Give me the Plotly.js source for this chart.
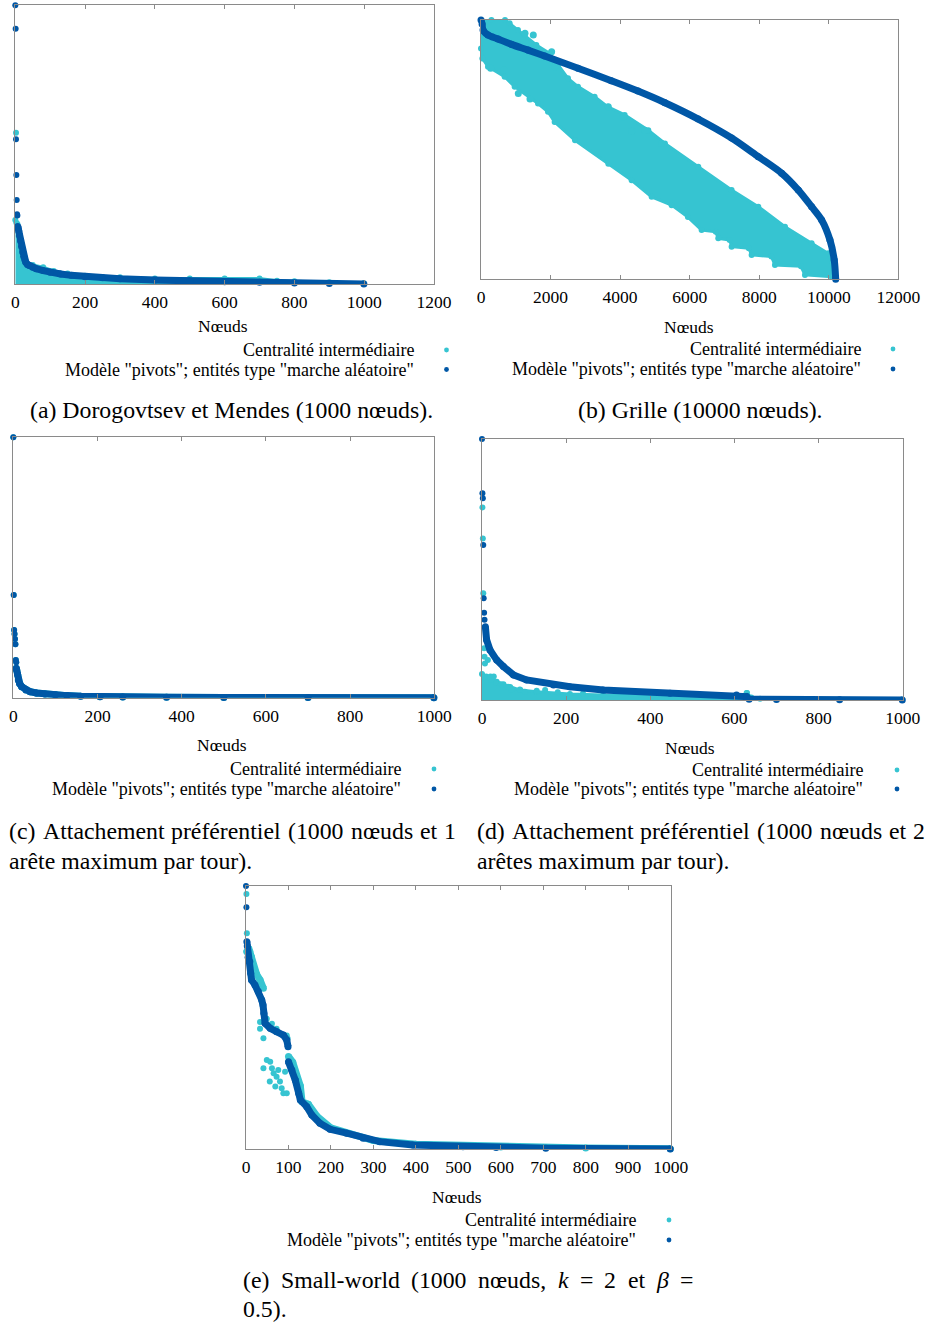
<!DOCTYPE html>
<html>
<head>
<meta charset="utf-8">
<script src="https://cdn.plot.ly/plotly-3.0.1.min.js"></script>
<style>
  html, body { margin: 0; padding: 0; background: #fff; }
  #chart { width: 925px; height: 1323px; }
</style>
</head>
<body>
<div id="chart"></div>
<script>
// Series colours
const CYAN = 'rgb(54,196,209)';
const BLUE = 'rgb(0,87,166)';

// Shared labels
const xTitle = 'Nœuds';
const nameCentral = 'Centralité intermédiaire';
const namePivot = 'Modèle "pivots"; entités type "marche aléatoire"';

// ---- (a) Dorogovtsev et Mendes (1000 nœuds) ----
const aPivotTopX = [0, 1, 2, 3, 4, 5, 6];
const aPivotTopY = [1.0, 0.916, 0.519, 0.391, 0.301, 0.250, 0.246];
const aPivotX = [7, 8, 10, 12, 15, 18, 21, 24, 27, 30, 35, 40, 50, 60, 80, 100, 130, 160, 200, 250, 300, 400, 500, 600, 700, 800, 900, 999];
const aPivotY = [0.206, 0.200, 0.190, 0.175, 0.155, 0.135, 0.115, 0.100, 0.088, 0.078, 0.070, 0.066, 0.060, 0.055, 0.048, 0.042, 0.036, 0.031, 0.026, 0.022, 0.019, 0.014, 0.011, 0.008, 0.006, 0.004, 0.002, 0.000];
const aCentralTopX = [2];
const aCentralTopY = [0.543];
const aCentralHiX = [0, 3, 6, 10, 15, 20, 28, 50, 80, 110, 150, 200, 300, 400, 500, 600, 700, 750, 800, 900, 999];
const aCentralHiY = [0.23, 0.22, 0.215, 0.17, 0.12, 0.09, 0.07, 0.068, 0.06, 0.047, 0.038, 0.03, 0.024, 0.02, 0.02, 0.02, 0.02, 0.012, 0.01, 0.006, 0.003];
const aCentralLoX = [0, 999];
const aCentralLoY = [-0.007, -0.007];

// ---- (b) Grille (10000 nœuds) ----
const bPivotX = [0, 30, 58, 201, 489, 872, 1351, 1831, 2789, 3747, 4514, 5290, 6248, 7207, 7974, 8646, 9125, 9508, 9796, 10034, 10158, 10200];
const bPivotY = [1.0, 0.985, 0.961, 0.942, 0.927, 0.906, 0.884, 0.861, 0.814, 0.766, 0.726, 0.681, 0.618, 0.545, 0.473, 0.409, 0.344, 0.280, 0.229, 0.152, 0.074, 0.0];
const bCentralHiX = [0, 300, 690, 824, 1063, 1255, 1591, 1975, 2214, 2501, 2789, 3268, 3651, 4131, 4811, 5290, 6248, 7207, 7974, 8741, 9508, 9987, 10131];
const bCentralHiY = [1.0, 1.0, 1.0, 0.987, 0.961, 0.942, 0.904, 0.871, 0.826, 0.775, 0.743, 0.704, 0.665, 0.634, 0.575, 0.524, 0.434, 0.344, 0.28, 0.203, 0.139, 0.1, 0.036];
const bCentralLoX = [0, 40, 201, 680, 968, 1639, 1926, 2118, 2703, 3661, 4332, 4907, 5482, 5950, 6344, 6750, 6823, 7150, 7207, 7700, 7782, 8350, 8453, 9200, 9316, 10083];
const bCentralLoY = [0.89, 0.852, 0.82, 0.781, 0.743, 0.678, 0.646, 0.607, 0.536, 0.446, 0.382, 0.318, 0.286, 0.24, 0.19, 0.183, 0.158, 0.152, 0.126, 0.12, 0.094, 0.088, 0.055, 0.05, 0.017, 0.01];
const bCentralDotX = [1265, 1504, 1073, 1409, 3661, 4092, 4332, 4715, 5194, 278, 661, 2031, 2127];
const bCentralDotY = [0.949, 0.942, 0.717, 0.695, 0.665, 0.627, 0.571, 0.575, 0.524, 0.814, 0.807, 0.878, 0.82];

// ---- (c) Attachement préférentiel, 1 arête par tour ----
const cTopX = [0, 1, 2, 3, 4, 5, 6, 7];
const cTopY = [1.0, 0.394, 0.26, 0.245, 0.225, 0.205, 0.145, 0.136];
const cCurveX = [7, 8, 10, 12, 15, 20, 30, 40, 55, 75, 100, 127, 160, 206, 260, 364, 500, 700, 999];
const cCurveY = [0.113, 0.106, 0.09, 0.068, 0.055, 0.042, 0.03, 0.023, 0.018, 0.014, 0.011, 0.008, 0.006, 0.004, 0.003, 0.002, 0.001, 0.0005, 0.0];

// ---- (d) Attachement préférentiel, 2 arêtes par tour ----
const dPivotTopX = [0, 1, 2, 3, 4, 5, 6];
const dPivotTopY = [1.0, 0.792, 0.773, 0.594, 0.39, 0.334, 0.307];
const dPivotX = [8, 11, 19, 35, 51, 75, 106, 170, 209, 288, 447, 605, 629, 635, 700, 850, 999];
const dPivotY = [0.281, 0.23, 0.192, 0.153, 0.128, 0.096, 0.077, 0.057, 0.051, 0.038, 0.026, 0.019, 0.013, 0.003, 0.002, 0.001, 0.0];
const dCentralDotX = [1, 2, 3, 5, 6, 7, 14, 6, 22, 34, 62, 70, 102, 150, 20, 28, 45, 90, 130, 180, 240, 630];
const dCentralDotY = [0.738, 0.619, 0.409, 0.198, 0.166, 0.14, 0.153, 0.089, 0.077, 0.065, 0.051, 0.038, 0.032, 0.038, 0.09, 0.09, 0.06, 0.04, 0.035, 0.03, 0.025, 0.027];
const dCentralHiX = [0, 10, 20, 35, 51, 67, 91, 130, 209, 288, 447, 621, 629, 640, 661, 700, 999];
const dCentralHiY = [0.1, 0.09, 0.085, 0.07, 0.06, 0.05, 0.038, 0.032, 0.023, 0.019, 0.015, 0.015, 0.027, 0.01, 0.005, 0.002, 0.001];
const dCentralLoX = [0, 999];
const dCentralLoY = [-0.006, -0.006];

// ---- (e) Small-world ----
const ePivotTopX = [0, 1];
const ePivotTopY = [1.0, 0.919];
const ePivotX = [2, 3, 5, 9, 11, 13, 21, 29, 37, 40, 42, 45, 57, 72, 88, 96, 99, null, 100, 108, 116, 124, 128, 143, 155, 174, 198, 237, 276, 315, 393, 511, 589, 706, 999];
const ePivotY = [0.788, 0.772, 0.729, 0.712, 0.668, 0.643, 0.624, 0.599, 0.567, 0.548, 0.516, 0.478, 0.459, 0.446, 0.433, 0.414, 0.389, null, 0.332, 0.3, 0.262, 0.212, 0.186, 0.161, 0.129, 0.098, 0.075, 0.06, 0.041, 0.028, 0.015, 0.009, 0.006, 0.003, 0.0];
const eCentralDotX = [1, 2, 1, 33, 33, 41, 49, 61, 72, 96, 98, 41, 49, 57, 61, 56, 65, 72, 69, 80, 84, 88, 96, 92, 76];
const eCentralDotY = [0.97, 0.82, 0.752, 0.483, 0.457, 0.421, 0.495, 0.476, 0.457, 0.432, 0.42, 0.307, 0.338, 0.332, 0.307, 0.257, 0.288, 0.275, 0.238, 0.257, 0.231, 0.212, 0.212, 0.294, 0.3];
const eCentralX = [2, 5, 9, 13, 21, 25, 33, 41, null, 100, 110, 128, 132, 147, 167, 200, 300, 400, 600, 800, 999];
const eCentralY = [0.75, 0.745, 0.75, 0.73, 0.677, 0.664, 0.643, 0.611, null, 0.352, 0.33, 0.24, 0.18, 0.17, 0.125, 0.08, 0.032, 0.018, 0.008, 0.004, 0.001];

// ---- Captions ----
const capA = '(a) Dorogovtsev et Mendes (1000 nœuds).';
const capB = '(b) Grille (10000 nœuds).';
const capC1 = ['(c)', 'Attachement', 'préférentiel', '(1000', 'nœuds', 'et', '1'];
const capC2 = 'arête maximum par tour).';
const capD1 = ['(d)', 'Attachement', 'préférentiel', '(1000', 'nœuds', 'et', '2'];
const capD2 = 'arêtes maximum par tour).';
const capE1 = ['(e)', 'Small-world', '(1000', 'nœuds,', '*k', '=', '2', 'et', '*β', '='];
const capE2 = '0.5).';

// ---------- helpers: page pixels -> paper coordinates ----------
const W = 925, H = 1323;
const X = px => px / W;
const Y = py => 1 - py / H;
const SERIF = '"Liberation Serif", "Times New Roman", serif';
const SMALL = 17.5, LEG = 18, CAP = 23.8;
const LW = 7;   // thickness of the dense point runs

function xaxis(x0, x1, range, dtick, yname) {
  return {
    domain: [X(x0), X(x1)], range: range, dtick: dtick, tick0: 0, tickformat: 'd',
    anchor: yname, ticks: 'inside', ticklen: 4, tickwidth: 1, tickcolor: '#8a8a8a',
    ticklabelstandoff: 2,
    showline: true, linecolor: '#8a8a8a', linewidth: 1, mirror: 'ticks',
    showgrid: false, zeroline: false,
    tickfont: { family: SERIF, size: SMALL, color: '#000' }
  };
}
function yaxis(yb, yt, xname) {
  return {
    domain: [Y(yb), Y(yt)], range: [0, 1], anchor: xname,
    showticklabels: false, ticks: '', showline: true, linecolor: '#8a8a8a',
    linewidth: 1, mirror: true, showgrid: false, zeroline: false
  };
}

function dots(x, y, color, xa, ya, size) {
  return { x: x, y: y, xaxis: xa, yaxis: ya, type: 'scatter', mode: 'markers',
    marker: { color: color, size: size || 6 }, cliponaxis: false, showlegend: false, hoverinfo: 'skip' };
}
function curve(x, y, color, xa, ya, smooth) {
  return { x: x, y: y, xaxis: xa, yaxis: ya, type: 'scatter', mode: 'lines+markers',
    line: smooth ? { color: color, width: LW, shape: 'spline', smoothing: 0.8 } : { color: color, width: LW },
    marker: { color: color, size: LW },
    connectgaps: false, cliponaxis: false, showlegend: false, hoverinfo: 'skip' };
}
function band(loX, loY, hiX, hiY, color, xa, ya) {
  return [
    { x: loX, y: loY, xaxis: xa, yaxis: ya, type: 'scatter', mode: 'lines+markers',
      line: { color: color, width: 3 }, marker: { color: color, size: 6 },
      cliponaxis: false, showlegend: false, hoverinfo: 'skip' },
    { x: hiX, y: hiY, xaxis: xa, yaxis: ya, type: 'scatter', mode: 'lines+markers',
      line: { color: color, width: 3 }, marker: { color: color, size: 6 },
      fill: 'tonexty', fillcolor: color, cliponaxis: false, showlegend: false, hoverinfo: 'skip' }
  ];
}

const traces = [
  // (a)
  ...band(aCentralLoX, aCentralLoY, aCentralHiX, aCentralHiY, CYAN, 'x', 'y'),
  dots(aCentralTopX, aCentralTopY, CYAN, 'x', 'y'),
  curve(aPivotX, aPivotY, BLUE, 'x', 'y'),
  dots(aPivotTopX, aPivotTopY, BLUE, 'x', 'y'),
  // (b)
  ...band(bCentralLoX, bCentralLoY, bCentralHiX, bCentralHiY, CYAN, 'x2', 'y2'),
  dots(bCentralDotX, bCentralDotY, CYAN, 'x2', 'y2', 7),
  curve(bPivotX, bPivotY, BLUE, 'x2', 'y2', true),
  // (c)
  curve(cCurveX, cCurveY, CYAN, 'x3', 'y3'),
  dots(cTopX, cTopY, CYAN, 'x3', 'y3'),
  curve(cCurveX, cCurveY, BLUE, 'x3', 'y3'),
  dots(cTopX, cTopY, BLUE, 'x3', 'y3'),
  // (d)
  ...band(dCentralLoX, dCentralLoY, dCentralHiX, dCentralHiY, CYAN, 'x4', 'y4'),
  dots(dCentralDotX, dCentralDotY, CYAN, 'x4', 'y4'),
  curve(dPivotX, dPivotY, BLUE, 'x4', 'y4'),
  dots(dPivotTopX, dPivotTopY, BLUE, 'x4', 'y4'),
  // (e)
  curve(eCentralX, eCentralY, CYAN, 'x5', 'y5'),
  dots(eCentralDotX, eCentralDotY, CYAN, 'x5', 'y5'),
  curve(ePivotX, ePivotY, BLUE, 'x5', 'y5'),
  dots(ePivotTopX, ePivotTopY, BLUE, 'x5', 'y5')
];

// ---------- text ----------
const ctx = document.createElement('canvas').getContext('2d');
function textWidth(s, size, italic) {
  ctx.font = (italic ? 'italic ' : '') + size + 'px "Liberation Serif"';
  return ctx.measureText(s).width;
}
function label(text, px, py, anchor, size) {
  return { text: text, x: X(px), y: Y(py), xref: 'paper', yref: 'paper',
    xanchor: anchor, yanchor: 'middle', showarrow: false, borderpad: 0,
    font: { family: SERIF, size: size, color: '#000' } };
}
// a justified caption line: words spread between left and right
function justified(words, left, right, py, size) {
  const items = words.map(w => w.startsWith('*') ? { t: w.slice(1), it: true } : { t: w, it: false });
  const widths = items.map(w => textWidth(w.t, size, w.it));
  const total = widths.reduce((a, b) => a + b, 0);
  const gap = (right - left - total) / (items.length - 1);
  let px = left;
  return items.map((w, k) => {
    const a = label(w.it ? '<i>' + w.t + '</i>' : w.t, px, py, 'left', size);
    px += widths[k] + gap;
    return a;
  });
}
function legendBlock(textRight, y1, y2) {
  return [label(nameCentral, textRight, y1, 'right', LEG), label(namePivot, textRight, y2, 'right', LEG)];
}
function legendDot(px, py, color) {
  return { type: 'circle', xref: 'paper', yref: 'paper', xsizemode: 'pixel', ysizemode: 'pixel',
    xanchor: X(px), yanchor: Y(py), x0: -2.4, x1: 2.4, y0: -2.4, y1: 2.4,
    fillcolor: color, line: { width: 0 } };
}

const annotations = [
  label(xTitle, 223, 326, 'center', SMALL),
  ...legendBlock(415, 350, 369.5),
  label(capA, 231.5, 410, 'center', CAP),

  label(xTitle, 689, 327, 'center', SMALL),
  ...legendBlock(862, 349, 369),
  label(capB, 700, 410, 'center', CAP),

  label(xTitle, 222, 745, 'center', SMALL),
  ...legendBlock(402, 769, 789),
  ...justified(capC1, 8, 455, 831, CAP),
  label(capC2, 8, 861, 'left', CAP),

  label(xTitle, 690, 748, 'center', SMALL),
  ...legendBlock(864, 770, 789),
  ...justified(capD1, 476, 924, 831, CAP),
  label(capD2, 476, 861, 'left', CAP),

  label(xTitle, 457, 1197, 'center', SMALL),
  ...legendBlock(637, 1220, 1240),
  ...justified(capE1, 242, 692, 1280, CAP),
  label(capE2, 242, 1309, 'left', CAP)
];

const shapes = [
  legendDot(446.5, 350, CYAN), legendDot(446.5, 369.5, BLUE),
  legendDot(893, 349, CYAN), legendDot(893, 369, BLUE),
  legendDot(434, 769, CYAN), legendDot(434, 789, BLUE),
  legendDot(897, 770, CYAN), legendDot(897, 789, BLUE),
  legendDot(669, 1220, CYAN), legendDot(669, 1240, BLUE)
];

const layout = {
  width: W, height: H, margin: { l: 0, r: 0, t: 0, b: 0 },
  paper_bgcolor: '#fff', plot_bgcolor: '#fff', showlegend: false,
  xaxis: xaxis(15.3, 434, [0, 1200], 200, 'y'),
  yaxis: yaxis(284, 5.3, 'x'),
  xaxis2: xaxis(481, 898.3, [0, 12000], 2000, 'y2'),
  yaxis2: yaxis(279.3, 20, 'x2'),
  xaxis3: xaxis(13.3, 434.3, [0, 1000], 200, 'y3'),
  yaxis3: yaxis(697.7, 437.3, 'x3'),
  xaxis4: xaxis(482, 902.7, [0, 1000], 200, 'y4'),
  yaxis4: yaxis(700, 439, 'x4'),
  xaxis5: xaxis(246, 670.7, [0, 1000], 100, 'y5'),
  yaxis5: yaxis(1149, 886, 'x5'),
  annotations: annotations,
  shapes: shapes
};

Plotly.newPlot('chart', traces, layout, { displayModeBar: false, staticPlot: true });
</script>
</body>
</html>
